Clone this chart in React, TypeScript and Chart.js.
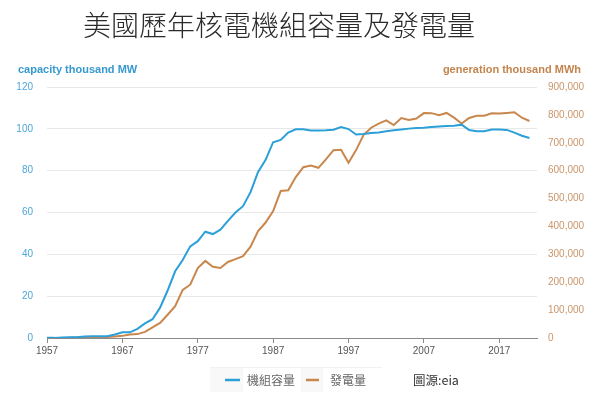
import React, { useEffect, useRef } from "react";
import { Chart, registerables } from "chart.js";

Chart.register(...registerables);

const titleText = "美國歷年核電機組容量及發電量";
const leftAxisTitle = "capacity thousand MW";
const rightAxisTitle = "generation thousand MWh";
const seriesNames = ["機組容量", "發電量"];
const sourceNote = "圖源:eia";

const years = [
  1957, 1958, 1959, 1960, 1961, 1962, 1963, 1964, 1965, 1966,
  1967, 1968, 1969, 1970, 1971, 1972, 1973, 1974, 1975, 1976,
  1977, 1978, 1979, 1980, 1981, 1982, 1983, 1984, 1985, 1986,
  1987, 1988, 1989, 1990, 1991, 1992, 1993, 1994, 1995, 1996,
  1997, 1998, 1999, 2000, 2001, 2002, 2003, 2004, 2005, 2006,
  2007, 2008, 2009, 2010, 2011, 2012, 2013, 2014, 2015, 2016,
  2017, 2018, 2019, 2020, 2021,
];

// thousand MW
const capacity = [
  0.06, 0.06, 0.2, 0.4, 0.4, 0.7, 0.8, 0.8, 0.8, 1.7,
  2.7, 2.7, 4.4, 7.0, 9.0, 14.5, 22.7, 31.9, 37.3, 43.8,
  46.3, 50.8, 49.7, 51.8, 56.0, 60.0, 63.0, 69.7, 79.4, 85.2,
  93.6, 94.7, 98.2, 99.8, 99.8, 99.2, 99.2, 99.3, 99.6, 100.9,
  99.9, 97.3, 97.5, 98.0, 98.3, 98.8, 99.3, 99.7, 100.1, 100.4,
  100.5, 100.9, 101.1, 101.3, 101.5, 102.0, 99.4, 98.8, 98.8, 99.7,
  99.7, 99.5, 98.2, 96.7, 95.6,
];

// thousand MWh
const generation = [
  10, 165, 188, 518, 1692, 2270, 3212, 3343, 3657, 5520,
  7655, 12528, 13928, 21804, 38105, 54091, 83479, 113976, 172505, 191104,
  250883, 276403, 255155, 251116, 272674, 282773, 293677, 327634, 383691, 414038,
  455270, 526973, 529355, 576862, 612565, 618776, 610291, 640440, 673402, 674729,
  628644, 673702, 728254, 753893, 768826, 780064, 763733, 788528, 781986, 787219,
  806425, 806208, 798855, 806968, 790204, 769331, 789016, 797166, 797178, 805694,
  804950, 807084, 809409, 789879, 778152,
];

const xTicks = [1957, 1967, 1977, 1987, 1997, 2007, 2017];

const BLUE = "#2b9fd8";
const ORANGE = "#c8874d";

const overlayPlugin = {
  id: "overlayText",
  afterDraw(chart: any) {
    const ctx = chart.ctx as CanvasRenderingContext2D;
    ctx.save();
    // title
    ctx.fillStyle = "#2a2a2a";
    ctx.font = '300 28px "Noto Sans CJK TC", "Noto Sans CJK SC", sans-serif';
    ctx.textAlign = "center";
    ctx.textBaseline = "middle";
    ctx.fillText(titleText, 279, 25);

    // axis titles
    ctx.font = 'bold 11px "Liberation Sans", Arial, sans-serif';
    ctx.textAlign = "left";
    ctx.fillStyle = "#3699d0";
    ctx.fillText(leftAxisTitle, 18, 70);
    ctx.textAlign = "right";
    ctx.fillStyle = "#c4844e";
    ctx.fillText(rightAxisTitle, 581, 70);

    // legend
    const ly = 380;
    ctx.fillStyle = "#f8f8f8";
    ctx.fillRect(210, 368, 33, 24);
    ctx.fillRect(301, 368, 22, 24);
    ctx.strokeStyle = "#f1f1f1";
    ctx.lineWidth = 1;
    ctx.beginPath();
    ctx.moveTo(210, 367.5);
    ctx.lineTo(382, 367.5);
    ctx.stroke();

    ctx.lineWidth = 2.5;
    ctx.strokeStyle = BLUE;
    ctx.beginPath();
    ctx.moveTo(225, ly);
    ctx.lineTo(240, ly);
    ctx.stroke();
    ctx.strokeStyle = ORANGE;
    ctx.beginPath();
    ctx.moveTo(306, ly);
    ctx.lineTo(319, ly);
    ctx.stroke();

    ctx.font = '12px "Noto Sans CJK TC", sans-serif';
    ctx.textAlign = "left";
    ctx.fillStyle = "#666";
    ctx.fillText(seriesNames[0], 247, ly);
    ctx.fillText(seriesNames[1], 330, ly);

    ctx.font = '12.5px "Noto Sans CJK TC", sans-serif';
    ctx.fillStyle = "#333";
    ctx.fillText(sourceNote, 413, ly);
    ctx.restore();
  },
};

export default function App() {
  const ref = useRef<HTMLCanvasElement | null>(null);

  useEffect(() => {
    if (!ref.current) return;
    const chart = new Chart(ref.current, {
      type: "line",
      data: {
        datasets: [
          {
            label: seriesNames[0],
            data: years.map((y, i) => ({ x: y, y: capacity[i] })),
            borderColor: BLUE,
            backgroundColor: BLUE,
            borderWidth: 2,
            pointRadius: 0,
            tension: 0,
            yAxisID: "y",
          },
          {
            label: seriesNames[1],
            data: years.map((y, i) => ({ x: y, y: generation[i] })),
            borderColor: ORANGE,
            backgroundColor: ORANGE,
            borderWidth: 2,
            pointRadius: 0,
            tension: 0,
            yAxisID: "y1",
          },
        ],
      },
      options: {
        animation: false,
        responsive: false,
        devicePixelRatio: 1,
        layout: { padding: { top: 87, left: 0, right: 0, bottom: 0 } },
        plugins: {
          legend: { display: false },
          title: { display: false },
          tooltip: { enabled: false },
        },
        scales: {
          x: {
            type: "linear",
            min: 1957,
            max: 2022,
            afterBuildTicks: (scale: any) => {
              scale.ticks = xTicks.map((v) => ({ value: v }));
            },
            afterFit: (scale: any) => {
              scale.height = 57;
            },
            grid: {
              display: true,
              drawOnChartArea: false,
              drawTicks: true,
              tickLength: 5,
              color: "#8a8a8a",
            },
            border: { display: true, color: "#8a8a8a", width: 1 },
            ticks: {
              autoSkip: false,
              maxRotation: 0,
              padding: 2,
              color: "#555",
              font: { size: 10, family: '"Liberation Sans", Arial, sans-serif' },
              callback: (v: any) => String(v),
            },
          },
          y: {
            type: "linear",
            position: "left",
            min: 0,
            max: 120,
            afterFit: (scale: any) => {
              scale.width = 47;
            },
            grid: {
              drawTicks: false,
              color: (c: any) => (c.tick && c.tick.value === 0 ? "rgba(0,0,0,0)" : "#e8e8e8"),
            },
            border: { display: false },
            ticks: {
              stepSize: 20,
              padding: 14,
              color: "#4ea5d9",
              font: { size: 10, family: '"Liberation Sans", Arial, sans-serif' },
            },
          },
          y1: {
            type: "linear",
            position: "right",
            min: 0,
            max: 900000,
            afterFit: (scale: any) => {
              scale.width = 63;
            },
            grid: { drawOnChartArea: false, drawTicks: false },
            border: { display: false },
            ticks: {
              stepSize: 100000,
              padding: 11,
              color: "#c9956a",
              font: { size: 10, family: '"Liberation Sans", Arial, sans-serif' },
              callback: (v: any) => Number(v).toLocaleString("en-US"),
            },
          },
        },
      },
      plugins: [overlayPlugin],
    } as any);
    return () => chart.destroy();
  }, []);

  return (
    <div
      style={{
        position: "absolute",
        left: 0,
        top: 0,
        width: 600,
        height: 395,
        background: "#fff",
      }}
    >
      <canvas ref={ref} width={600} height={395} style={{ display: "block", width: 600, height: 395 }} />
    </div>
  );
}
